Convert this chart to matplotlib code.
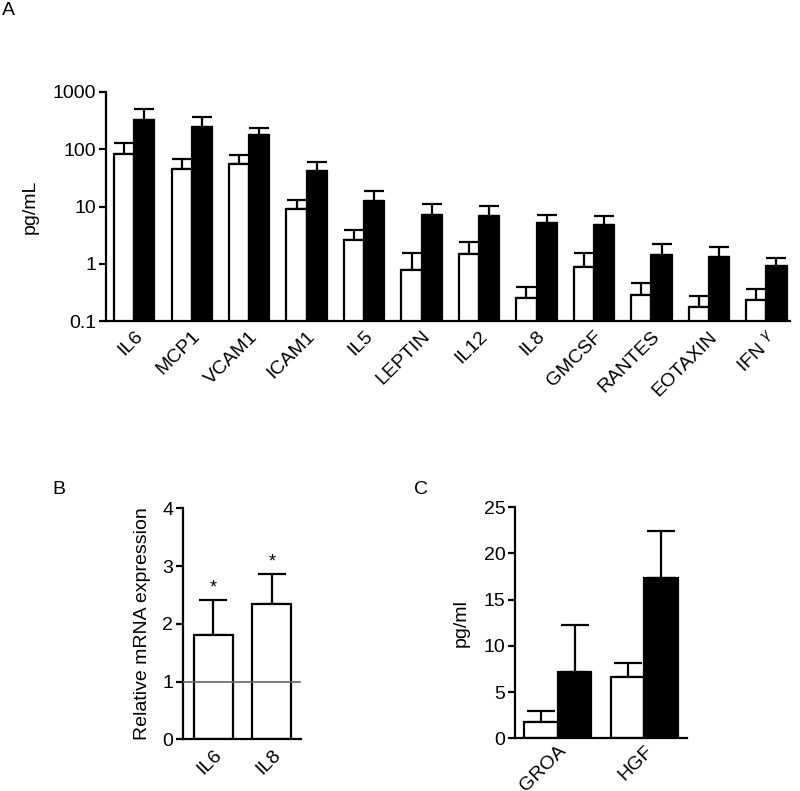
import numpy as np
import matplotlib.pyplot as plt

plt.rcParams['font.family'] = ['Liberation Sans', 'DejaVu Sans']
plt.rcParams['font.size'] = 14

# Panel A: cytokine levels (log scale)
cytokines = ["IL6", "MCP1", "VCAM1", "ICAM1", "IL5", "LEPTIN", "IL12", "IL8",
             "GMCSF", "RANTES", "EOTAXIN", "IFN $^{\\gamma}$"]
ctrl_mean = [82, 46, 56, 8.9, 2.6, 0.77, 1.46, 0.255, 0.89, 0.284, 0.173, 0.235]
ctrl_top = [130, 67, 80, 13, 3.9, 1.56, 2.43, 0.39, 1.52, 0.455, 0.277, 0.367]
treat_mean = [324, 248, 180, 41.7, 12.5, 7.2, 6.7, 5.15, 4.8, 1.4, 1.31, 0.91]
treat_top = [499, 366, 232, 60, 18.9, 11, 10.2, 7.2, 6.8, 2.19, 1.99, 1.24]

# Panel B: relative mRNA
mrna_genes = ["IL6", "IL8"]
mrna_mean = [1.81, 2.34]
mrna_top = [2.42, 2.86]

# Panel C: GROA / HGF
c_labels = ["GROA", "HGF"]
c_ctrl_mean = [1.73, 6.67]
c_ctrl_top = [2.99, 8.15]
c_treat_mean = [7.14, 17.35]
c_treat_top = [12.3, 22.4]

LW = 1.6


def style_axes(ax, xpad=5):
    for s in ["top", "right"]:
        ax.spines[s].set_visible(False)
    for s in ["left", "bottom"]:
        ax.spines[s].set_linewidth(LW)
    ax.tick_params(axis="y", direction="out", length=5, width=LW, pad=2)
    ax.tick_params(axis="x", length=0, pad=xpad)


def bars(ax, x, mean, top, color, width, capsize):
    mean = np.array(mean)
    err = np.array(top) - mean
    ax.bar(x, mean, width, color=color, edgecolor="black", linewidth=LW, zorder=2)
    ax.errorbar(x, mean, yerr=[np.zeros_like(err), err], fmt="none",
                ecolor="black", elinewidth=LW, capsize=capsize, capthick=LW, zorder=1)


fig = plt.figure(figsize=(8, 7.91), dpi=100)

# ---- A ----
axA = fig.add_axes([0.1325, 0.5941, 0.855, 0.2896])
x = np.arange(len(cytokines))
w = 0.35
bars(axA, x - w / 2, ctrl_mean, ctrl_top, "white", w, 7)
bars(axA, x + w / 2, treat_mean, treat_top, "black", w, 7)
axA.set_yscale("log")
axA.set_ylim(0.1, 1000)
axA.set_xlim(-0.49, 11.41)
axA.set_yticks([0.1, 1, 10, 100, 1000])
axA.set_yticklabels(["0.1", "1", "10", "100", "1000"])
axA.minorticks_off()
axA.set_xticks(x)
axA.set_xticklabels(cytokines, rotation=45, ha="right", rotation_mode="anchor")
axA.set_ylabel("pg/mL", labelpad=10)
style_axes(axA)
fig.text(0.003, 0.998, "A", fontsize=14, va="top")

# ---- B ----
axB = fig.add_axes([0.2288, 0.0654, 0.1475, 0.292])
xb = np.arange(len(mrna_genes))
bars(axB, xb, mrna_mean, mrna_top, "white", 0.667, 10)
axB.axhline(1, color="#666666", linewidth=1.2, zorder=3)
for xi, t in zip(xb, mrna_top):
    axB.text(xi, t + 0.06, "*", ha="center", va="bottom", fontsize=13)
axB.set_ylim(0, 4)
axB.set_xlim(-0.52, 1.5)
axB.set_yticks([0, 1, 2, 3, 4])
axB.set_xticks(xb)
axB.set_xticklabels(mrna_genes, rotation=45, ha="right", rotation_mode="anchor")
axB.set_ylabel("Relative mRNA expression", labelpad=8)
style_axes(axB)
fig.text(0.065, 0.392, "B", fontsize=14, va="top")

# ---- C ----
axC = fig.add_axes([0.6438, 0.0666, 0.215, 0.2921])
xc = np.arange(len(c_labels))
wc = 0.39
bars(axC, xc - wc / 2, c_ctrl_mean, c_ctrl_top, "white", wc, 10)
bars(axC, xc + wc / 2, c_treat_mean, c_treat_top, "black", wc, 10)
axC.set_ylim(0, 25)
axC.set_xlim(-0.49, 1.49)
axC.set_yticks([0, 5, 10, 15, 20, 25])
axC.set_xticks(xc)
axC.set_xticklabels(c_labels, rotation=45, ha="right", rotation_mode="anchor")
axC.set_ylabel("pg/ml", labelpad=10)
style_axes(axC, xpad=3)
fig.text(0.518, 0.392, "C", fontsize=14, va="top")

fig.savefig("out.png", dpi=100, facecolor="white")
